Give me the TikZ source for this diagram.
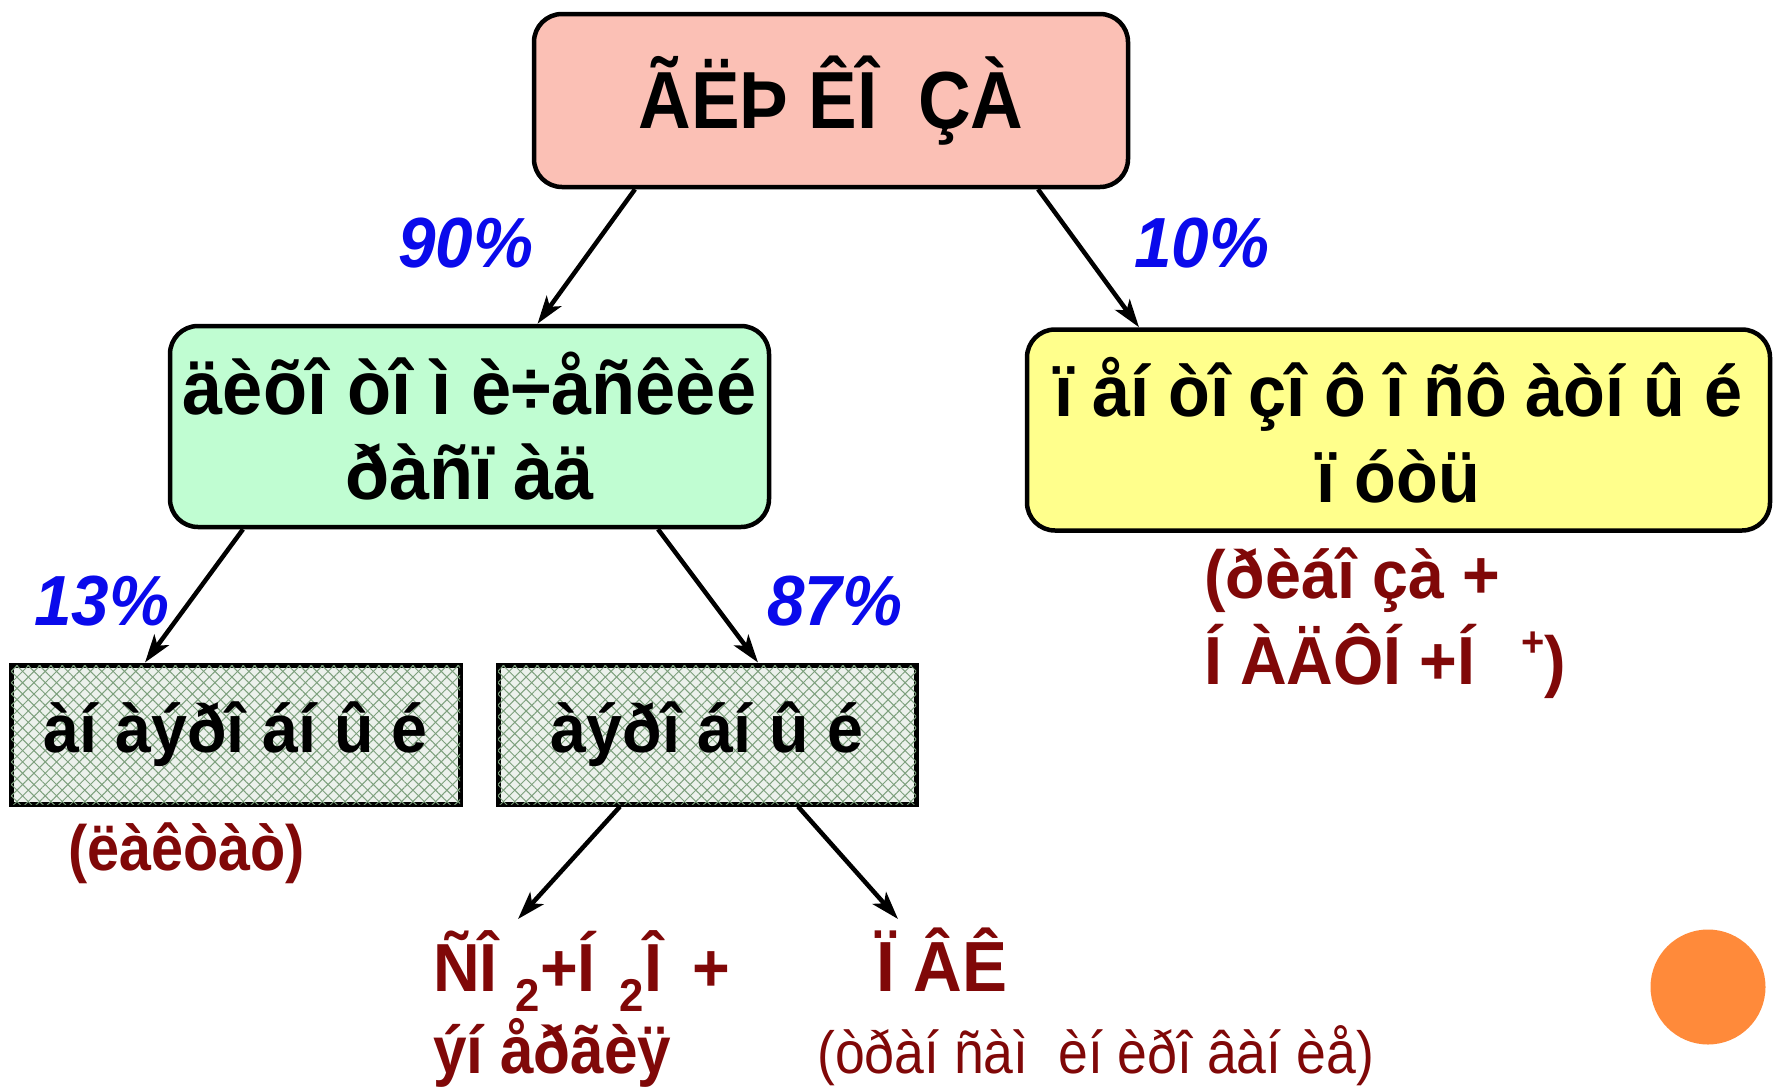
\documentclass[tikz,border=0pt]{standalone}
\usepackage{fontspec}
\setmainfont{Liberation Sans}[FakeStretch=0.9]
\newfontfamily\widefont{Liberation Sans}[FakeStretch=0.95]
\usetikzlibrary{arrows.meta,patterns.meta}
\definecolor{topfill}{RGB}{251,192,181}
\definecolor{greenfill}{RGB}{192,253,210}
\definecolor{yellowfill}{RGB}{255,255,140}
\definecolor{hatchbg}{RGB}{236,241,236}
\definecolor{hatchln}{RGB}{125,160,125}
\definecolor{pctblue}{RGB}{10,10,235}
\definecolor{darkred}{RGB}{128,8,8}
\definecolor{orangec}{RGB}{255,138,58}
\begin{document}
\begin{tikzpicture}[x=1pt,y=-1pt,
  rbox/.style={draw, line width=4.5pt, rounded corners=28pt, align=center, inner sep=0pt},
  hbox/.style={draw, line width=5pt, align=center, inner sep=0pt, fill=hatchbg,
    postaction={pattern={Lines[angle=45,distance=8pt,line width=1pt]},pattern color=hatchln},
    postaction={pattern={Lines[angle=-45,distance=8pt,line width=1pt]},pattern color=hatchln},
    minimum height=139pt, font=\widefont\bfseries\fontsize{68}{78}\selectfont},
  pct/.style={anchor=base west, inner sep=0pt, text=pctblue, font=\widefont\bfseries\itshape\fontsize{71}{80}\selectfont},
  lbl/.style={anchor=base west, inner sep=0pt, text=darkred, font=\widefont\bfseries\fontsize{68}{82}\selectfont},
  arr/.style={line width=4.5pt, -{Stealth[length=28pt,width=18pt,inset=7pt]}}]
\useasboundingbox (0,0) rectangle (1773,1090);

\node[rbox, fill=topfill, minimum width=594pt, minimum height=173pt,
  font=\bfseries\fontsize{81}{92}\selectfont] (top) at (831,100.5) {ÃËÞ ÊÎ \ ÇÀ};
\node[rbox, fill=greenfill, minimum width=599pt, minimum height=201pt,
  font=\widefont\bfseries\fontsize{76}{85}\selectfont] (green) at (469.5,426.5) {äèõî òî ì è÷åñêèé\\ðàñï àä};
\node[rbox, fill=yellowfill, minimum width=743pt, minimum height=201pt,
  font=\widefont\bfseries\fontsize{72}{86}\selectfont] (yellow) at (1398.5,430) {ï åí òî çî ô î ñô àòí û é\\ï óòü};
\node[hbox, minimum width=449pt] (lh) at (235.5,734.5) {àí àýðî áí û é};
\node[hbox, minimum width=418pt] (rh) at (707,734.5) {àýðî áí û é};

\node[pct] (p90) at (398,267) {90\%};
\node[pct] (p10) at (1134,267) {10\%};
\node[pct] (p13) at (34,625) {13\%};
\node[pct] (p87) at (767,625) {87\%};

\node[lbl] (rib1) at (1204,598) {(ðèáî çà +};
\node[lbl] (rib2) at (1204,684) {Í ÀÄÔÍ +Í \hspace{28pt}\raisebox{28pt}{\fontsize{42}{42}\selectfont +})};
\node[lbl, font=\bfseries\fontsize{64}{76}\selectfont] (lact) at (68,870) {(ëàêòàò)};
\node[lbl] (co2) at (433,991) {ÑÎ\hspace{18pt}\raisebox{-20pt}{\fontsize{46}{46}\selectfont 2}+Í\hspace{24pt}\raisebox{-20pt}{\fontsize{46}{46}\selectfont 2}Î\hspace{30pt}+};
\node[lbl, font=\bfseries\fontsize{67}{80}\selectfont] (en) at (433,1073) {ýí åðãèÿ};
\node[lbl, font=\widefont\bfseries\fontsize{71}{80}\selectfont] (pvk) at (876,991) {Ï ÂÊ};
\node[lbl, font=\fontsize{59.5}{70}\selectfont] (trans) at (817,1073) {(òðàí ñàì \ èí èðî âàí èå)};

\draw[arr] ([xshift=-196pt]top.south) -- ([xshift=68pt]green.north);
\draw[arr] ([xshift=207pt]top.south) -- ([xshift=-259.5pt]yellow.north);
\draw[arr] ([xshift=-226.5pt]green.south) -- ([xshift=-90.5pt]lh.north);
\draw[arr] ([xshift=188.5pt]green.south) -- ([xshift=51pt]rh.north);
\draw[arr] ([xshift=-87pt]rh.south) -- ([xshift=85pt,yshift=72pt]co2.base west);
\draw[arr] ([xshift=91pt]rh.south) -- ([xshift=22pt,yshift=72pt]pvk.base west);

\fill[orangec] (1708,987) circle (57.5pt);
\end{tikzpicture}
\end{document}
